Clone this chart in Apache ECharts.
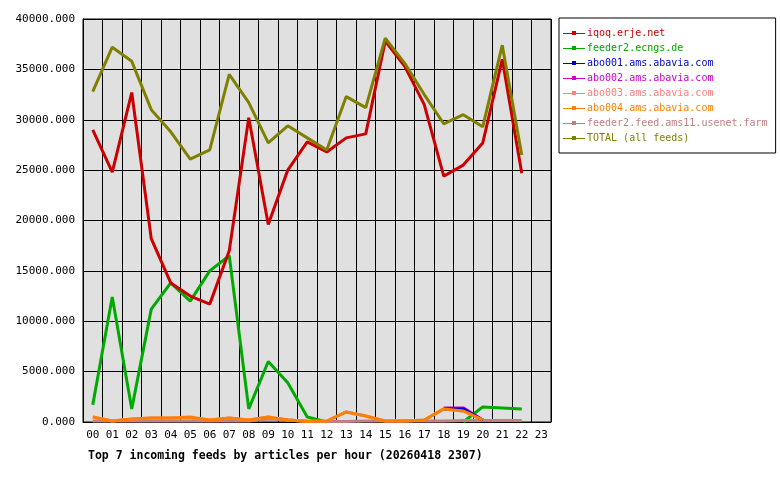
<!DOCTYPE html><html><head><meta charset="utf-8"><script src="https://cdn.jsdelivr.net/npm/echarts@6/dist/echarts.min.js"></script></head><body style="margin:0;background:#fff"><div id="c" style="width:780px;height:480px"></div><script>
const hours=['00','01','02','03','04','05','06','07','08','09','10','11','12','13','14','15','16','17','18','19','20','21','22','23'];
const names=['iqoq.erje.net','feeder2.ecngs.de','abo001.ams.abavia.com','abo002.ams.abavia.com','abo003.ams.abavia.com','abo004.ams.abavia.com','feeder2.feed.ams11.usenet.farm','TOTAL (all feeds)'];
const colors=['#cc0000','#00aa00','#0000cc','#cc00cc','#ff8080','#ff8000','#c08080','#808000'];
const iqoq=[29000,24800,32700,18200,13800,12500,11700,17000,30200,19600,25000,27800,26800,28200,28600,37800,35300,31500,24400,25500,27700,36000,24700];
const ecngs=[1700,12400,1300,11200,13800,12000,15000,16500,1300,6000,3900,500,0,null,null,null,null,null,null,0,1500,1400,1300];
const abo001=[null,null,null,null,null,null,null,null,null,null,null,null,null,null,null,null,null,null,1300,1300,200];
const abo002=[null,null,null,null,null,null,null,null,null,null,null,null,null,null,null,null,null,null,1400,1400,200];
const abo003=[500,100,300,400,400,400,200,400,200,500,200,50,100,1000,600,100,100,200,1300,1100,200];
const abo004=[500,100,300,400,400,500,200,400,200,500,200,50,100,1000,600,100,100,200,1300,1100,200];
const farm=[100,100,100,100,100,100,100,100,100,300,200,100,50,50,100,100,100,100,100,150,150,150,150];
const total=[32800,37200,35800,31000,28800,26100,27000,34500,31700,27700,29400,28200,27000,32300,31200,38100,35600,32500,29600,30500,29300,37400,26500];
const data=[iqoq,ecngs,abo001,abo002,abo003,abo004,farm,total];
const F='DejaVu Sans Mono';
const order=[1,6,4,3,2,0,5,7];
const ch=echarts.init(document.getElementById('c'));
ch.setOption({
 animation:false,
 title:{text:'Top 7 incoming feeds by articles per hour (20260418 2307)',left:83,top:445,textStyle:{fontFamily:F,fontSize:11.5,fontWeight:'bold',color:'#000'}},
 grid:{left:83,right:229,top:19,bottom:58,show:true,backgroundColor:'#e0e0e0',borderColor:'#000',borderWidth:1},
 legend:{orient:'vertical',left:559,top:18,width:215,itemGap:5,itemWidth:22,itemHeight:6,padding:[10,8,10,4],borderColor:'#000',borderWidth:1,
  icon:'path://M0,3L9,3L9,1L13,1L13,3L22,3L22,4L13,4L13,5L9,5L9,4L0,4Z',
  data:names.map((n,i)=>({name:n,textStyle:{color:colors[i]}})),textStyle:{fontFamily:F,fontSize:10,padding:[0,0,0,-3]}},
 xAxis:{type:'category',data:hours,boundaryGap:true,axisLine:{lineStyle:{color:'#000'}},axisTick:{show:false},
  axisLabel:{fontFamily:F,fontSize:11,color:'#000',margin:8},splitLine:{show:true,interval:0,lineStyle:{color:'#000'}}},
 yAxis:{type:'value',min:0,max:40000,interval:5000,axisLine:{show:true,lineStyle:{color:'#000'}},axisTick:{show:false},
  axisLabel:{fontFamily:F,fontSize:11,color:'#000',formatter:v=>v.toFixed(3)},splitLine:{lineStyle:{color:'#000'}}},
 series:order.map(i=>({name:names[i],type:'line',data:data[i],color:colors[i],symbol:'none',lineStyle:{width:3,color:colors[i]}}))
});
</script></body></html>
